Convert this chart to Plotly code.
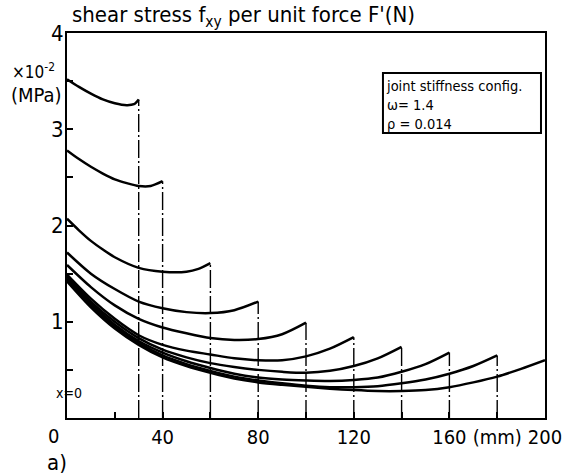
import plotly.graph_objects as go

# ---- data ----
x_a = [0, 5, 10, 15, 20, 25, 28, 30]
y_a = [3.52, 3.44, 3.37, 3.31, 3.27, 3.25, 3.26, 3.31]

x_b = [0, 5, 10, 15, 20, 25, 30, 35, 40]
y_b = [2.78, 2.69, 2.61, 2.54, 2.48, 2.44, 2.41, 2.41, 2.46]

x_c = [0, 5, 10, 15, 20, 30, 40, 50, 55, 60]
y_c = [2.07, 1.95, 1.84, 1.75, 1.67, 1.56, 1.52, 1.52, 1.55, 1.61]

x_d = [0, 10, 20, 30, 40, 50, 60, 70, 80]
y_d = [1.72, 1.50, 1.34, 1.21, 1.14, 1.10, 1.09, 1.12, 1.21]

x_e = [0, 10, 20, 30, 40, 50, 60, 70, 80, 90, 100]
y_e = [1.59, 1.36, 1.17, 1.03, 0.94, 0.88, 0.83, 0.81, 0.82, 0.87, 0.99]

x_f = [0, 10, 20, 30, 40, 50, 60, 70, 80, 90, 100, 110, 120]
y_f = [1.49, 1.24, 1.03, 0.86, 0.76, 0.70, 0.66, 0.62, 0.60, 0.60, 0.64, 0.72, 0.84]

x_g = [0, 10, 20, 30, 40, 50, 60, 70, 80, 90, 100, 110, 120, 130, 140]
y_g = [1.47, 1.21, 1.00, 0.83, 0.71, 0.63, 0.57, 0.53, 0.50, 0.48, 0.47, 0.49, 0.54, 0.62, 0.74]

x_h = [0, 10, 20, 30, 40, 50, 60, 70, 80, 90, 100, 110, 120, 130, 140, 150, 160]
y_h = [1.45, 1.19, 0.97, 0.80, 0.68, 0.59, 0.52, 0.46, 0.42, 0.40, 0.39, 0.385, 0.395, 0.42, 0.48, 0.56, 0.68]

x_i = [0, 10, 20, 30, 40, 50, 60, 70, 80, 90, 100, 110, 120, 130, 140, 150, 160, 170, 180]
y_i = [1.44, 1.17, 0.95, 0.78, 0.65, 0.56, 0.49, 0.43, 0.39, 0.36, 0.335, 0.32, 0.32, 0.33, 0.36, 0.40, 0.46, 0.54, 0.65]

x_j = [0, 10, 20, 30, 40, 50, 60, 70, 80, 90, 100, 110, 120, 130, 140, 150, 160, 170, 180, 190, 200]
y_j = [1.42, 1.15, 0.93, 0.76, 0.63, 0.54, 0.47, 0.41, 0.37, 0.345, 0.325, 0.305, 0.29, 0.28, 0.28, 0.29, 0.32, 0.37, 0.43, 0.51, 0.60]

curves = [(x_a, y_a), (x_b, y_b), (x_c, y_c), (x_d, y_d), (x_e, y_e),
          (x_f, y_f), (x_g, y_g), (x_h, y_h), (x_i, y_i), (x_j, y_j)]

x_tickvals = [40, 80, 120, 160, 180, 200]
x_ticktext = ["40", "80", "120", "160", "(mm)", "200"]
y_tickvals = [1, 2, 3, 4]
y_ticktext = ["1", "2", "3", "4"]
legend_lines = ["joint stiffness config.", "ω= 1.4", "ρ = 0.014"]

FONT = "DejaVu Sans Condensed, DejaVu Sans, sans-serif"

fig = go.Figure()

# vertical dash-dot lines at the curve ends
for xs, ys in curves[:-1]:
    fig.add_trace(go.Scatter(x=[xs[-1], xs[-1]], y=[0, ys[-1]], mode="lines",
                             line=dict(color="black", width=1.4, dash="18px,3px,2px,3px"),
                             hoverinfo="skip", showlegend=False))

for xs, ys in curves:
    fig.add_trace(go.Scatter(x=xs, y=ys, mode="lines",
                             line=dict(color="black", width=2.5, shape="spline", smoothing=0.8),
                             showlegend=False))

fig.update_xaxes(range=[0, 200], tickvals=x_tickvals, ticktext=x_ticktext, tickangle=0,
                 ticks="inside", ticklen=6, tickwidth=1.5, tickcolor="black",
                 minor=dict(ticks="inside", tick0=0, dtick=20, ticklen=6, tickwidth=1.5,
                            tickcolor="black", showgrid=False),
                 showline=True, linecolor="black", linewidth=2, mirror=True,
                 showgrid=False, zeroline=False, automargin=False,
                 tickfont=dict(family=FONT, size=20, color="black"))
fig.update_yaxes(range=[0, 4], tickvals=y_tickvals, ticktext=y_ticktext,
                 ticks="inside", ticklen=6, tickwidth=1.5, tickcolor="black",
                 minor=dict(ticks="inside", tick0=0, dtick=0.5, ticklen=6, tickwidth=1.5,
                            tickcolor="black", showgrid=False),
                 showline=True, linecolor="black", linewidth=2, mirror=True,
                 showgrid=False, zeroline=False, ticklabelstandoff=-3, automargin=False,
                 tickfont=dict(family=FONT, size=22, color="black"))

ann = [
    dict(text="shear stress f<sub>xy</sub> per unit force F'(N)", x=0, y=1,
         xref="paper", yref="paper", xanchor="left", yanchor="bottom",
         xshift=3, yshift=0, showarrow=False,
         font=dict(family=FONT, size=22, color="black")),
    dict(text="×10<sup>-2</sup>", x=0, y=1, xref="paper", yref="paper",
         xanchor="right", yanchor="middle", xshift=-10, yshift=-38, showarrow=False,
         font=dict(family=FONT, size=17, color="black")),
    dict(text="(MPa)", x=0, y=1, xref="paper", yref="paper",
         xanchor="right", yanchor="middle", xshift=-3, yshift=-62, showarrow=False,
         font=dict(family=FONT, size=20, color="black")),
    dict(text="x=0", x=0, y=0.26, xref="x", yref="y", xanchor="center", yanchor="middle",
         xshift=2, showarrow=False, font=dict(family=FONT, size=14, color="black")),
    dict(text="0", x=0, y=0, xref="x", yref="paper", xanchor="center", yanchor="top",
         xshift=-14, yshift=-4, showarrow=False, font=dict(family=FONT, size=20, color="black")),
    dict(text="a)", x=0, y=0, xref="x", yref="paper", xanchor="center", yanchor="top",
         xshift=-10, yshift=-30, showarrow=False, font=dict(family=FONT, size=22, color="black")),
    dict(text="<br>".join(legend_lines), x=0.663, y=0.896, xref="paper", yref="paper",
         xanchor="left", yanchor="top", yshift=-3, align="left",
         showarrow=False, font=dict(family=FONT, size=14.5, color="black")),
]

fig.update_layout(
    width=566, height=474,
    margin=dict(l=67, r=21, t=33, b=56),
    paper_bgcolor="white", plot_bgcolor="white",
    annotations=ann,
    shapes=[dict(type="rect", xref="paper", yref="paper",
                 x0=0.661, x1=0.9916, y0=0.740, y1=0.896,
                 line=dict(color="black", width=2), fillcolor="rgba(0,0,0,0)")],
    showlegend=False,
)

fig.write_html("out.html")
